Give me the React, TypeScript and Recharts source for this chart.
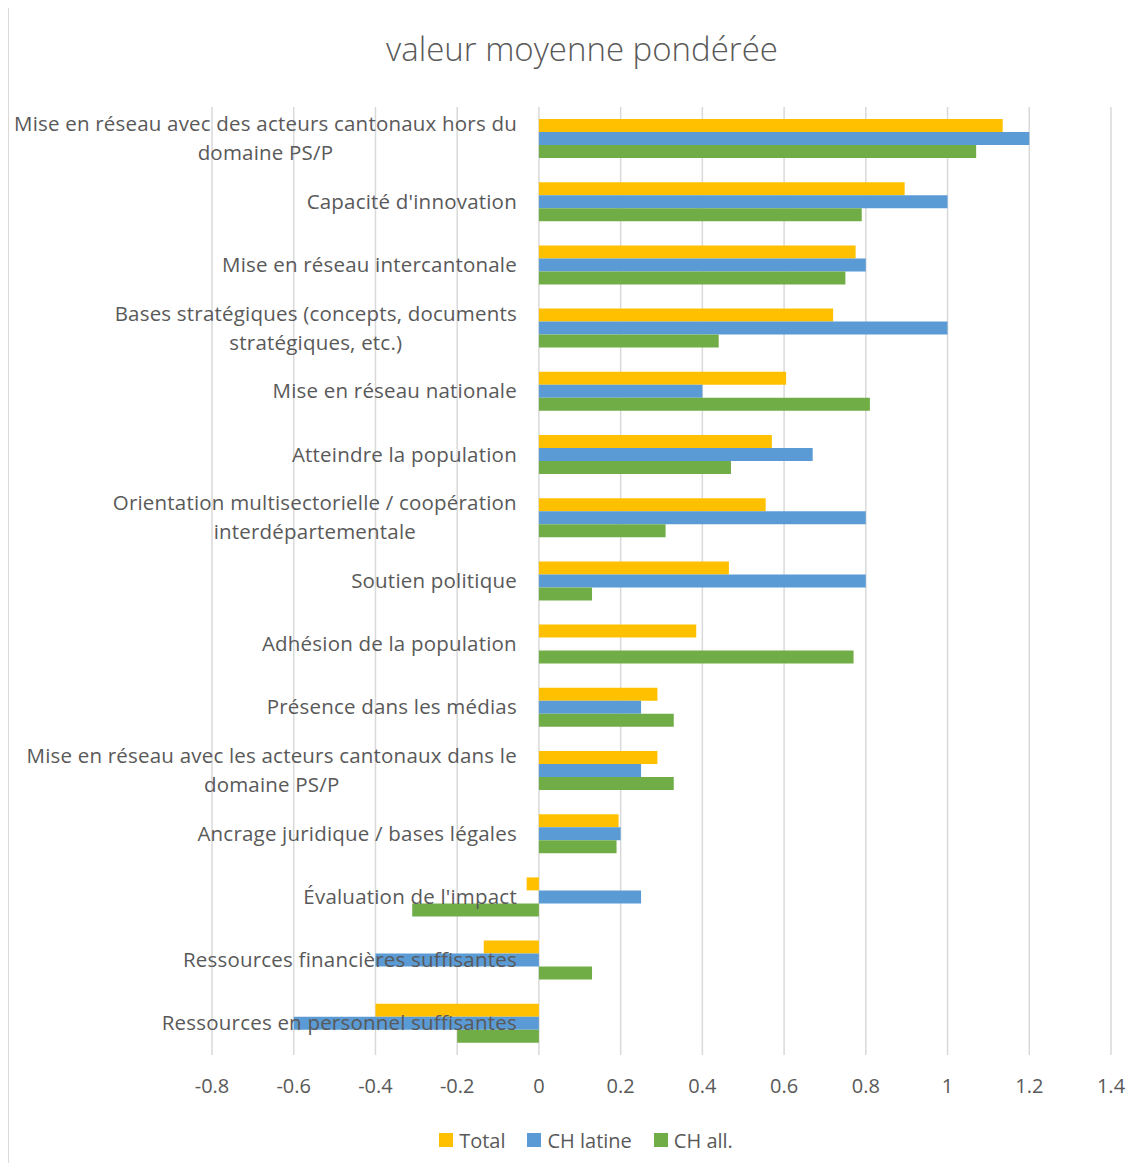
import React from 'react';
import { BarChart, Bar, XAxis, YAxis, CartesianGrid } from 'recharts';

// categories, top to bottom ("\n" marks the line break used in the original)
const categories = [
  'Mise en réseau avec des acteurs cantonaux hors du\ndomaine PS/P',
  "Capacité d'innovation",
  'Mise en réseau intercantonale',
  'Bases stratégiques (concepts, documents\nstratégiques, etc.)',
  'Mise en réseau nationale',
  'Atteindre la population',
  'Orientation multisectorielle / coopération\ninterdépartementale',
  'Soutien politique',
  'Adhésion de la population',
  'Présence dans les médias',
  'Mise en réseau avec les acteurs cantonaux dans le\ndomaine PS/P',
  'Ancrage juridique / bases légales',
  "Évaluation de l'impact",
  'Ressources financières suffisantes',
  'Ressources en personnel suffisantes',
];

const totalValues = [1.135, 0.895, 0.775, 0.72, 0.605, 0.57, 0.555, 0.465, 0.385, 0.29, 0.29, 0.195, -0.03, -0.135, -0.4];
const latineValues = [1.2, 1.0, 0.8, 1.0, 0.4, 0.67, 0.8, 0.8, 0, 0.25, 0.25, 0.2, 0.25, -0.4, -0.6];
const allValues = [1.07, 0.79, 0.75, 0.44, 0.81, 0.47, 0.31, 0.13, 0.77, 0.33, 0.33, 0.19, -0.31, 0.13, -0.2];

const xTicks = [-0.8, -0.6, -0.4, -0.2, 0, 0.2, 0.4, 0.6, 0.8, 1, 1.2, 1.4];

const series = [
  { key: 'total', name: 'Total', color: '#FFC000' },
  { key: 'latine', name: 'CH latine', color: '#5B9BD5' },
  { key: 'all', name: 'CH all.', color: '#70AD47' },
];

const data = categories.map((name, i) => ({
  name,
  total: totalValues[i],
  latine: latineValues[i],
  all: allValues[i],
}));

const FONT = '"Open Sans", Lato, sans-serif';
const TEXT = '#595959';
const W = 1139;
const H = 1155;
const Y_AXIS_W = 1;
const MARGIN = { top: 99, right: 36, bottom: 68, left: 204 - Y_AXIS_W };
const X_MIN = -0.8;
const X_MAX = 1.4;
const LABEL_SIZE = 20.5;
const LABEL_SPACING = 0.2;

// category labels sit just left of the zero line, like Excel does
const plotLeft = MARGIN.left + Y_AXIS_W;
const zeroX = plotLeft + ((0 - X_MIN) / (X_MAX - X_MIN)) * (W - plotLeft - MARGIN.right);

let ctx: CanvasRenderingContext2D | null = null;
function textWidth(s: string) {
  if (!ctx) ctx = document.createElement('canvas').getContext('2d');
  if (!ctx) return s.length * LABEL_SIZE * 0.5;
  ctx.font = `${LABEL_SIZE}px "Open Sans"`;
  return ctx.measureText(s).width + s.length * LABEL_SPACING;
}

// wrapped lines are centred on each other, the block is right-aligned
function CategoryTick(props: any) {
  const { y, payload } = props;
  const lines = String(payload.value).split('\n');
  const lh = 29;
  const right = zeroX - 22;
  const blockW = Math.max(...lines.map(textWidth));
  const cx = right - blockW / 2;
  return (
    <text
      x={cx}
      y={y}
      textAnchor="middle"
      fill={TEXT}
      fontSize={LABEL_SIZE}
      letterSpacing={LABEL_SPACING}
      fontFamily={FONT}
    >
      {lines.map((l, i) => (
        <tspan key={i} x={cx} y={y + (i - (lines.length - 1) / 2) * lh + 7}>
          {l}
        </tspan>
      ))}
    </text>
  );
}

const fmt = (v: number) => String(Number(v.toFixed(1)) || 0);

export default function App() {
  return (
    <div style={{ position: 'relative', width: W, height: H, overflow: 'hidden', fontFamily: FONT }}>
      <div
        style={{
          position: 'absolute',
          left: 0,
          top: -1,
          width: 1200,
          height: 1200,
          border: '1px solid #d9d9d9',
        }}
      />
      <div
        style={{
          position: 'absolute',
          left: 0,
          width: 1148,
          top: 18,
          textAlign: 'center',
          fontSize: 33,
          fontWeight: 300,
          color: TEXT,
        }}
      >
        valeur moyenne pondérée
      </div>
      <div style={{ position: 'absolute', left: 0, top: 0 }}>
        <BarChart
          width={W}
          height={H}
          data={data}
          layout="vertical"
          margin={MARGIN}
          barSize={13}
          barGap={0}
        >
          <CartesianGrid horizontal={false} stroke="#d9d9d9" strokeWidth={1.5} />
          <XAxis
            type="number"
            domain={[X_MIN, X_MAX]}
            ticks={xTicks}
            axisLine={false}
            tickLine={false}
            tickSize={0}
            tickMargin={24}
            height={40}
            interval={0}
            tickFormatter={fmt}
            tick={{ fill: TEXT, fontSize: 20, fontFamily: FONT }}
          />
          {series.map((s) => (
            <Bar key={s.key} dataKey={s.key} name={s.name} fill={s.color} isAnimationActive={false} />
          ))}
          <YAxis
            type="category"
            dataKey="name"
            width={Y_AXIS_W}
            axisLine={false}
            tickLine={false}
            interval={0}
            tick={(p: any) => <CategoryTick {...p} />}
          />
        </BarChart>
      </div>
      <div
        style={{
          position: 'absolute',
          left: 0,
          width: 1156,
          top: 1119,
          height: 26,
          display: 'flex',
          justifyContent: 'center',
          alignItems: 'center',
          gap: 22,
          fontSize: 20,
          color: TEXT,
        }}
      >
        {series.map((s) => (
          <div key={s.key} style={{ display: 'flex', alignItems: 'center' }}>
            <span style={{ width: 14, height: 14, background: s.color, marginRight: 6 }} />
            <span>{s.name}</span>
          </div>
        ))}
      </div>
    </div>
  );
}
